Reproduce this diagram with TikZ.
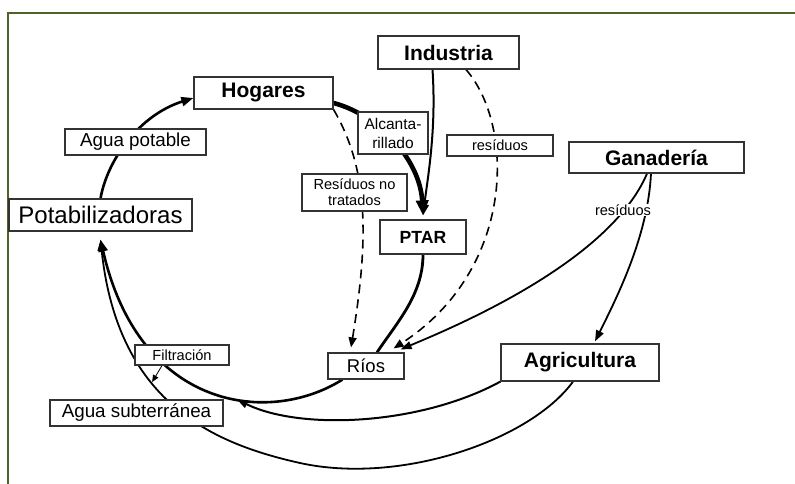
\documentclass[tikz,border=0pt]{standalone}
\usepackage{fontspec}
\setmainfont{Liberation Sans}
\usetikzlibrary{arrows.meta,backgrounds}
\definecolor{framegreen}{HTML}{4F6228}
\begin{document}
\begin{tikzpicture}[x=1pt,y=-1pt,
	box/.style={draw=black!80,fill=white,line width=1.2pt,inner sep=0pt,align=center},
	bigtxt/.style={font=\fontsize{21}{24}\selectfont\bfseries},
	midtxt/.style={font=\fontsize{18.8}{21}\selectfont},
	smalltxt/.style={font=\fontsize{14.6}{16}\selectfont},
	flow/.style={line width=2.6pt,-{Triangle[length=12pt,width=9pt]}},
	waste/.style={line width=1.6pt,dash pattern=on 9pt off 6pt,-{Triangle[length=10pt,width=8pt]}},
	feed/.style={line width=1.8pt,-{Triangle[length=11pt,width=8pt]}}]
\useasboundingbox (0,0) rectangle (795,484);
\node[box,bigtxt,minimum width=139pt,minimum height=32pt] (hog) at (263.5,93) {Hogares};
\node[box,midtxt,minimum width=141pt,minimum height=26pt] (agpot) at (135.5,142) {Agua potable};
\node[box,font=\fontsize{24}{27}\selectfont,minimum width=183pt,minimum height=32pt] (pot) at (100.5,215) {Potabilizadoras};
\node[box,smalltxt,minimum width=105pt,minimum height=37pt] (resnt) at (354.5,192.5) {Resíduos no\\tratados};
\node[box,font=\fontsize{15.5}{19}\selectfont,minimum width=70pt,minimum height=42pt] (alc) at (393,133) {Alcanta-\\rillado};
\node[box,font=\fontsize{17.6}{20}\selectfont\bfseries,minimum width=86pt,minimum height=34pt] (ptar) at (423,237) {PTAR};
\node[box,bigtxt,minimum width=141pt,minimum height=33pt] (ind) at (448.5,52.5) {Industria};
\node[box,smalltxt,minimum width=106pt,minimum height=21pt] (resind) at (500,145.5) {resíduos};
\node[box,bigtxt,minimum width=175pt,minimum height=31pt] (gan) at (656.5,157.5) {Ganadería};
\node[fill=white,smalltxt,inner sep=1pt] (resgan) at (623,210) {resíduos};
\node[box,font=\fontsize{18.5}{21}\selectfont,minimum width=76pt,minimum height=26pt] (rios) at (366,366) {Ríos};
\node[box,bigtxt,minimum width=158pt,minimum height=37pt] (agr) at (580,362.5) {Agricultura};
\node[box,smalltxt,minimum width=94pt,minimum height=20pt] (filt) at (182,355) {Filtración};
\node[box,midtxt,minimum width=173pt,minimum height=26pt] (agsub) at (136.5,413) {Agua subterránea};
\coordinate (low) at (300,463);
\begin{scope}[on background layer]
	\draw[framegreen,line width=1.2pt] (8,484) -- (8,13) -- (795,13);
	\draw[flow] (pot.north) .. controls +(7,-39) and +(-54,17) .. ([yshift=-5pt]hog.west);
	\draw[line width=4.6pt,-{Triangle[length=15pt,width=12pt]}] ([yshift=-10pt]hog.east) .. controls +(45,12) and +(-3,-56) .. ([yshift=4pt]ptar.north);
	\draw[line width=2pt,-{Triangle[length=11pt,width=9pt]}] ([xshift=-16pt]ind.south) .. controls +(4,60) and +(5,-40) .. ([yshift=4pt]ptar.north);
	\draw[waste] (hog.south east) .. controls +(35,60) and +(18,-110) .. ([xshift=-15pt,yshift=5pt]rios.north);
	\draw[waste] ([xshift=17.5pt]ind.south) .. controls +(49,56) and +(122,-79) .. ([xshift=-11pt,yshift=4pt]rios.north east);
	\draw[line width=2.8pt] (ptar.south) .. controls +(0,40) and +(20,-30) .. ([xshift=11pt]rios.north);
	\draw[feed] ([xshift=-9.5pt]gan.south) .. controls +(-37,87) and +(60,-25) .. ([xshift=-4pt,yshift=3pt]rios.north east);
	\draw[feed] ([xshift=-5.5pt]gan.south) .. controls +(-3,60) and +(25,-50) .. ([xshift=15pt,yshift=2pt]agr.north);
	\draw[flow] ([xshift=15pt]rios.south west) .. controls +(-73,46) and +(39,171) .. ([yshift=-8pt]pot.south) coordinate[pos=0.4] (merge);
	\draw[feed,line width=2pt] (agr.south west) .. controls +(-81,44) and +(63,31) .. (merge);
	\draw[feed] ([xshift=-7pt]agr.south) .. controls +(-43,59) and +(100,22) .. (low) .. controls +(-90,-20) and +(17,161) .. ([yshift=-8pt]pot.south) coordinate[pos=0.6] (seep);
	\draw[line width=0.8pt,-{Triangle[length=7pt,width=6pt]}] ([xshift=-20pt]filt.south) -- (seep);
\end{scope}
\end{tikzpicture}
\end{document}
